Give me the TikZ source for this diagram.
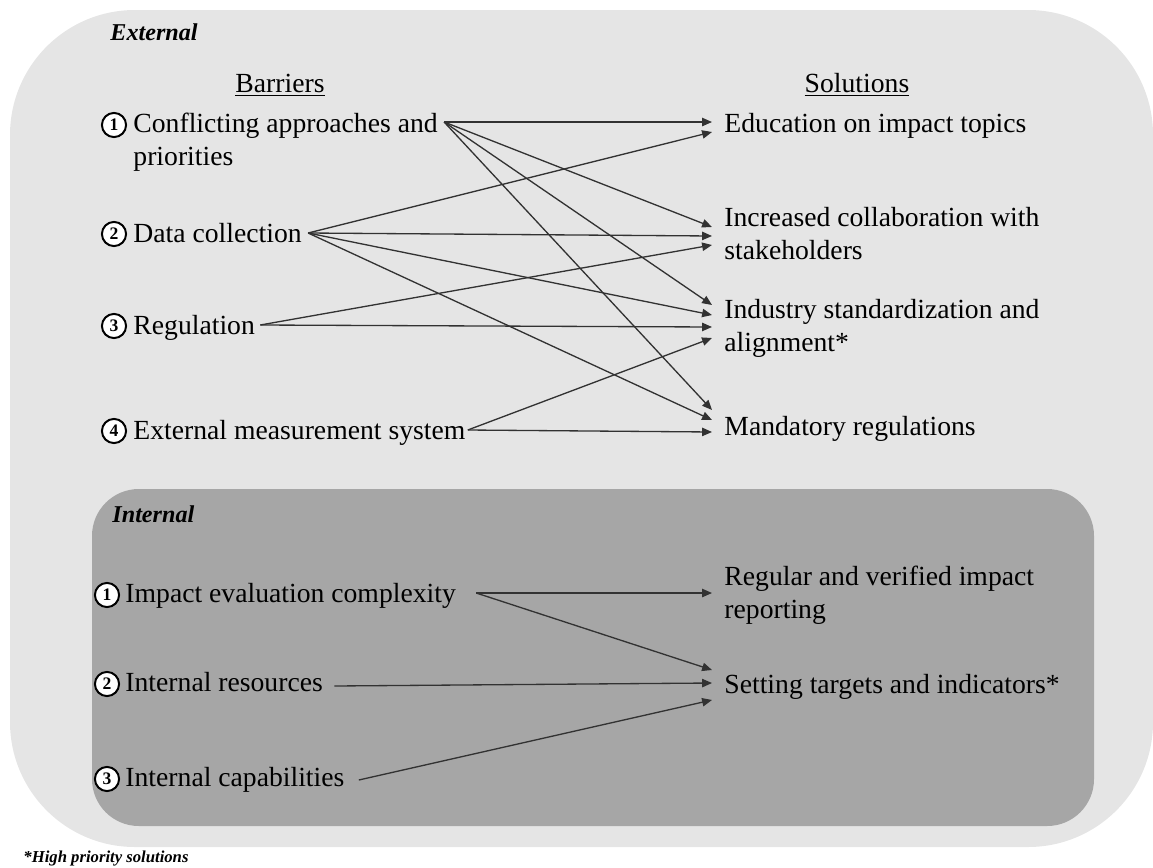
\documentclass[tikz,border=0pt]{standalone}
\usepackage{fontspec}
\setmainfont{Liberation Serif}
\usetikzlibrary{arrows.meta,calc}

\definecolor{extfill}{RGB}{229,229,229}
\definecolor{intfill}{RGB}{166,166,166}
\definecolor{linkcol}{RGB}{50,50,50}

\begin{document}
\begin{tikzpicture}[x=0.016cm, y=-0.016cm,
    num/.style={circle, draw, line width=0.9pt, fill=white, inner sep=0pt, minimum size=11pt, font=\fontsize{8}{8}\selectfont\bfseries},
    item/.style={anchor=base west, align=left, inner sep=0pt, font=\fontsize{12.6}{15}\selectfont},
    heading/.style={anchor=base, inner sep=0pt, font=\fontsize{12.6}{15}\selectfont},
    group/.style={anchor=base west, inner sep=0pt, font=\fontsize{11}{13}\selectfont\bfseries\itshape},
    link/.style={draw=linkcol, line width=0.6pt, -{Triangle[length=4.5pt,width=3.8pt]}}]
    \useasboundingbox (0,0) rectangle (1153,867);

    % Background panels
    \fill[extfill, rounded corners=2cm] (10,10) rectangle (1153,847);
    \fill[intfill, rounded corners=0.75cm] (92,489) rectangle (1094,826);

    % External part
    \node[group] (ext) at (110,40) {External};
    \node[heading] (hbar) at (280,92) {\underline{Barriers}};
    \node[heading] (hsol) at (857,92) {\underline{Solutions}};

    \node[num] (n1) at (114,125) {1};
    \node[num] (n2) at (114,234) {2};
    \node[num] (n3) at (114,326) {3};
    \node[num] (n4) at (114,431) {4};
    % two-line items sit on their last baseline
    \node[item] (b1) at (133,165) {Conflicting approaches and\\priorities};
    \node[item] (b2) at (133,242) {Data collection};
    \node[item] (b3) at (133,334) {Regulation};
    \node[item] (b4) at (133,439) {External measurement system};

    \node[item] (s1) at (724,132) {Education on impact topics};
    \node[item] (s2) at (724,259) {Increased collaboration with\\stakeholders};
    \node[item] (s3) at (724,351) {Industry standardization and\\alignment*};
    \node[item] (s4) at (724,435) {Mandatory regulations};

    % Links from conflicting approaches
    \draw[link] ($(b1.base east)+(6,-43)$) -- ($(s1.base west)+(-12,-10)$);
    \draw[link] ($(b1.base east)+(6,-43)$) -- ($(s2.base west)+(-12,-32)$);
    \draw[link] ($(b1.base east)+(6,-43)$) -- ($(s3.base west)+(-12,-46)$);
    \draw[link] ($(b1.base east)+(6,-43)$) -- ($(s4.base west)+(-12,-25)$);

    % Links from data collection
    \draw[link] ($(b2.base east)+(6,-9)$) -- ($(s1.base west)+(-12,0)$);
    \draw[link] ($(b2.base east)+(6,-9)$) -- ($(s2.base west)+(-12,-23)$);
    \draw[link] ($(b2.base east)+(6,-9)$) -- ($(s3.base west)+(-12,-36)$);
    \draw[link] ($(b2.base east)+(6,-9)$) -- ($(s4.base west)+(-12,-15)$);

    % Links from regulation
    \draw[link] ($(b3.base east)+(5,-9)$) -- ($(s2.base west)+(-12,-14)$);
    \draw[link] ($(b3.base east)+(5,-9)$) -- ($(s3.base west)+(-12,-24)$);

    % Links from external measurement system
    \draw[link] ($(b4.base east)+(2,-9)$) -- ($(s3.base west)+(-12,-13)$);
    \draw[link] ($(b4.base east)+(2,-9)$) -- ($(s4.base west)+(-12,-3)$);

    % Internal part
    \node[group] (int) at (112,522) {Internal};

    \node[num] (m1) at (107,595) {1};
    \node[num] (m2) at (107,684) {2};
    \node[num] (m3) at (107,779) {3};
    \node[item] (i1) at (125,602) {Impact evaluation complexity};
    \node[item] (i2) at (125,691) {Internal resources};
    \node[item] (i3) at (125,786) {Internal capabilities};

    \node[item] (r1) at (724,618) {Regular and verified impact\\reporting};
    \node[item] (r2) at (724,693) {Setting targets and indicators*};

    \draw[link] ($(i1.base east)+(20,-9)$) -- ($(r1.base west)+(-12,-25)$);
    \draw[link] ($(i1.base east)+(20,-9)$) -- ($(r2.base west)+(-12,-23)$);
    \draw[link] ($(i2.base east)+(11,-5)$) -- ($(r2.base west)+(-12,-10)$);
    \draw[link] ($(i3.base east)+(14,-6)$) -- ($(r2.base west)+(-12,7)$);

    % Footnote
    \node[anchor=base west, inner sep=0pt, font=\fontsize{7.6}{9}\selectfont\bfseries\itshape] (note) at (23,862) {*High priority solutions};
\end{tikzpicture}
\end{document}
